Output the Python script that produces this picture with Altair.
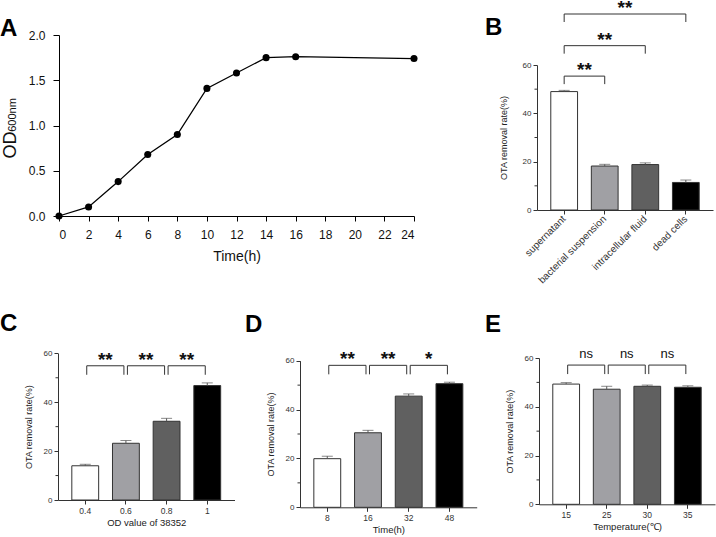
import altair as alt
import pandas as pd

W, H = 716, 537
FONT = "Liberation Sans"
INK = "#333333"

# ---------------- Panel A : growth curve ----------------
a_time = [0, 2, 4, 6, 8, 10, 12, 14, 16, 24]
a_od = [0.0, 0.10, 0.38, 0.68, 0.90, 1.41, 1.58, 1.75, 1.76, 1.74]
a_xticks = [0, 2, 4, 6, 8, 10, 12, 14, 16, 18, 20, 22, 24]
a_yticks = [0.0, 0.5, 1.0, 1.5, 2.0]

# ---------------- Panel B ----------------
b_cats = ["supernatant", "bacterial suspension", "intracellular fluid", "dead cells"]
b_mean = [49.0, 18.2, 18.8, 11.4]
b_err = [0.5, 0.7, 0.7, 1.0]
b_left = [0, 0, 0]
b_right = [1, 2, 3]
b_level = [55.4, 68.0, 81.1]
b_sig = ["**", "**", "**"]

# ---------------- Panel C ----------------
c_cats = ["0.4", "0.6", "0.8", "1"]
c_mean = [14.0, 23.2, 32.2, 46.8]
c_err = [0.6, 1.1, 1.2, 1.1]
c_left = [0, 1, 2]
c_right = [1, 2, 3]
c_level = [54.9, 54.9, 54.9]
c_sig = ["**", "**", "**"]

# ---------------- Panel D ----------------
d_cats = ["8", "16", "32", "48"]
d_mean = [19.9, 30.5, 45.5, 50.6]
d_err = [1.0, 1.0, 0.9, 0.6]
d_left = [0, 1, 2]
d_right = [1, 2, 3]
d_level = [58.1, 58.1, 58.1]
d_sig = ["**", "**", "*"]

# ---------------- Panel E ----------------
e_cats = ["15", "25", "30", "35"]
e_mean = [49.3, 47.2, 48.4, 48.0]
e_err = [0.6, 1.2, 0.5, 0.6]
e_left = [0, 1, 2]
e_right = [1, 2, 3]
e_level = [57.1, 57.1, 57.1]
e_sig = ["ns", "ns", "ns"]

bar_ticks = [0, 20, 40, 60]
minor_ticks = [10, 30, 50]
BAR_FILL = ["#ffffff", "#a0a0a4", "#606060", "#000000"]
PI, PO = 0.34, 0.34


def panel_a():
    df = pd.DataFrame({"t": a_time, "od": a_od})
    x0, x1, yb, yt = 59, 414, 216, 35
    xax = alt.Axis(orient="bottom", offset=yb - H, values=a_xticks, title="Time(h)",
                   titleFontSize=14, titleFontWeight="normal", titleColor="#111",
                   titlePadding=9, labelFontSize=12, labelColor="#111", labelPadding=8,
                   tickSize=5, tickColor="#000", domainColor="#000", grid=False)
    yax = alt.Axis(orient="left", offset=-x0, values=a_yticks, format=".1f", title="",
                   labelFontSize=12, labelColor="#111", labelPadding=8,
                   tickSize=6, tickColor="#000", domainColor="#000", grid=False)
    X = alt.X("t:Q", scale=alt.Scale(domain=[0, 24], range=[x0, x1], nice=False, zero=False), axis=xax)
    Y = alt.Y("od:Q", scale=alt.Scale(domain=[0, 2], range=[yb, yt], nice=False), axis=yax)
    base = alt.Chart(df)
    line = base.mark_line(color="#000", strokeWidth=1.3).encode(x=X, y=Y)
    pts = base.mark_point(filled=True, color="#000", size=50, opacity=1).encode(x=X, y=Y)
    od = alt.Chart(pd.DataFrame({"s": ["OD"]})).mark_text(
        fontSize=18, angle=270, align="center", baseline="alphabetic", color="#111"
    ).encode(text="s:N", x=alt.value(15.5), y=alt.value(145))
    sub = alt.Chart(pd.DataFrame({"s": ["600nm"]})).mark_text(
        fontSize=11, angle=270, align="center", baseline="alphabetic", color="#111"
    ).encode(text="s:N", x=alt.value(15.5), y=alt.value(115))
    return alt.layer(line, pts, od, sub)


def bar_panel(cats, mean, err, left, right, level, sig, geom, xtitle,
              sig_size, sig_dy, sig_weight, off1, off2, leg, angle=0,
              ytitle_pad=10, xtitle_pad=3):
    x0, x1, yb, yt = geom
    n = len(cats)
    step = (x1 - x0) / (n - PI + 2 * PO)
    df = pd.DataFrame({"cat": cats, "mean": mean, "top": [m + e for m, e in zip(mean, err)]})
    xs = alt.Scale(domain=cats, range=[x0, x1], paddingInner=PI, paddingOuter=PO)
    ys = alt.Scale(domain=[0, 60], range=[yb, yt], nice=False, zero=True)
    xkw = dict(orient="bottom", offset=yb - H, title=xtitle, titleFontSize=9.5,
               titleFontWeight="normal", titleColor="#222", titlePadding=xtitle_pad,
               labelFontSize=8.5, labelColor="#333", labelPadding=2, tickSize=4,
               tickColor=INK, domainColor=INK, grid=False, labelAngle=angle)
    if angle:
        xkw.update(labelFontSize=10, labelAlign="right", labelBaseline="middle", labelPadding=3)
    xax = alt.Axis(**xkw)
    yax = alt.Axis(orient="left", offset=-x0, values=bar_ticks, title="OTA removal rate(%)",
                   titleFontSize=9, titleFontWeight="normal", titleColor="#222",
                   titlePadding=ytitle_pad, labelFontSize=8, labelColor="#333",
                   labelPadding=2, tickSize=4, tickColor=INK, domainColor=INK, grid=False)

    def X(f):
        return alt.X(f + ":N", scale=xs, axis=xax)

    def Y(f):
        return alt.Y(f + ":Q", scale=ys, axis=yax)

    base = alt.Chart(df)
    bars = base.mark_bar(stroke=INK, strokeWidth=1).encode(
        x=X("cat"), y=Y("mean"),
        fill=alt.Fill("cat:N", scale=alt.Scale(domain=cats, range=BAR_FILL), legend=None))
    ebar = base.mark_rule(color="#555", strokeWidth=1).encode(x=X("cat"), y=Y("mean"), y2="top:Q")
    cap = base.mark_tick(color="#555", thickness=1, size=11, orient="horizontal").encode(
        x=X("cat"), y=Y("top"))

    # minor ticks on the y axis (short marks just left of the axis line)
    mdf = pd.DataFrame({"m": minor_ticks})
    minor = alt.Chart(mdf).mark_rule(color=INK, strokeWidth=1).encode(
        y=Y("m"), x=alt.value(x0 - 2.5), x2=alt.value(x0))

    bdf = pd.DataFrame({"l": [cats[i] for i in left], "r": [cats[j] for j in right],
                        "lev": level, "sig": sig})
    bb = alt.Chart(bdf)
    hline = bb.mark_rule(color=INK, strokeWidth=1, xOffset=off1, x2Offset=off2).encode(
        x=X("l"), x2="r:N", y=Y("lev"))
    lleg = bb.mark_rule(color=INK, strokeWidth=1, xOffset=off1, y2Offset=leg).encode(
        x=X("l"), y=Y("lev"), y2="lev:Q")
    rleg = bb.mark_rule(color=INK, strokeWidth=1, xOffset=off2, y2Offset=leg).encode(
        x=X("r"), y=Y("lev"), y2="lev:Q")
    layers = [bars, ebar, cap, minor, hline, lleg, rleg]
    for k, (i, j) in enumerate(zip(left, right)):
        dx = (j - i) * step / 2 + (off1 + off2) / 2
        t = alt.Chart(bdf.iloc[[k]]).mark_text(
            dx=dx, dy=sig_dy, fontSize=sig_size, fontWeight=sig_weight, color="#111",
            align="center", baseline="alphabetic").encode(x=X("l"), y=Y("lev"), text="sig:N")
        layers.append(t)
    return alt.layer(*layers)


pB = bar_panel(b_cats, b_mean, b_err, b_left, b_right, b_level, b_sig,
               (537, 713, 210, 65), "", 19, 0, "bold", 0, 0, 8, angle=-45, ytitle_pad=14)
pC = bar_panel(c_cats, c_mean, c_err, c_left, c_right, c_level, c_sig,
               (58, 234.5, 500, 353.3), "OD value of 38352", 19, 0, "bold", 1.5, -2, 9)
pD = bar_panel(d_cats, d_mean, d_err, d_left, d_right, d_level, d_sig,
               (300, 476.7, 507.3, 360.7), "Time(h)", 19, 0, "bold", 1.5, -2, 9)
pE = bar_panel(e_cats, e_mean, e_err, e_left, e_right, e_level, e_sig,
               (539, 715, 504.3, 358), "Temperature(\u2103)", 13, -7.5, "normal", 1.5, -2, 9)

letters = []
for lab, lx, ly in [("A", 0, 35.7), ("B", 485, 35), ("C", 0, 331), ("D", 245, 332), ("E", 485, 332)]:
    letters.append(
        alt.Chart(pd.DataFrame({"L": [lab]})).mark_text(
            fontSize=24, fontWeight="bold", align="left", baseline="alphabetic", color="#000"
        ).encode(text="L:N", x=alt.value(lx), y=alt.value(ly))
    )

chart = (
    alt.layer(panel_a(), pB, pC, pD, pE, *letters)
    .resolve_scale(x="independent", y="independent", fill="independent")
    .resolve_axis(x="independent", y="independent")
    .properties(width=W, height=H, autosize=alt.AutoSizeParams(type="none"), padding=0,
                background="white")
    .configure(font=FONT)
    .configure_view(stroke="transparent")
)

chart.save("out.html", embed_options={"renderer": "svg", "actions": False})
